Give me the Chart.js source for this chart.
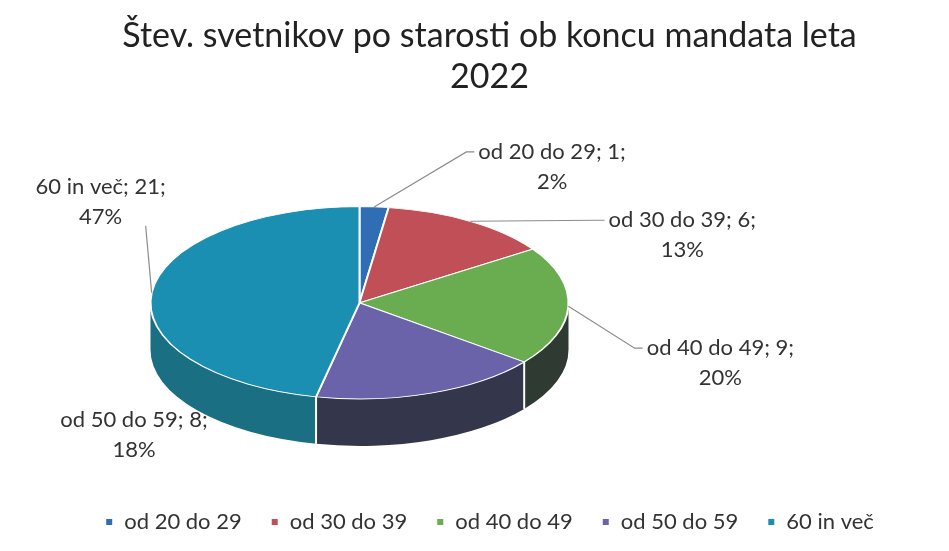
<!DOCTYPE html>
<html>
<head>
<meta charset="utf-8">
<script src="https://cdn.jsdelivr.net/npm/chart.js@4.4.0/dist/chart.umd.min.js"></script>
<style>
  html, body { margin: 0; padding: 0; background: #fff; }
</style>
</head>
<body>
<canvas id="myChart" width="949" height="551"></canvas>
<script>
// Data
const ageGroups = ['od 20 do 29', 'od 30 do 39', 'od 40 do 49', 'od 50 do 59', '60 in več'];
const councillors = [1, 6, 9, 8, 21];

// Colours: top faces and the (darker) front walls
const topColors = ['#2f6db5', '#c04f57', '#6aac50', '#6a63a9', '#1b8fb1'];
const wallColors = ['#214f82', '#8a3a40', '#2f3a33', '#34364c', '#1a6f82'];

// where Excel put each data label, relative to the slice's edge point
const labelNudge = [[178, -40], [212, 14], [152, 57], [-297, 42], [-51, -91]];
const hasLeader = [true, true, true, false, true];

const tilt = 0.46;      // squash of the top face
const depth = 47;       // height of the pie wall
const pieShift = [-130, 8];

const total = councillors.reduce((a, b) => a + b, 0);
const percents = councillors.map(v => Math.round(v / total * 100));

const FONT = 'Lato';

const pie3d = {
    id: 'pie3d',
    beforeDatasetsDraw(chart) {
        const ctx = chart.ctx;
        const arcs = chart.getDatasetMeta(0).data;
        const o = arcs[0];
        const X = o.x + pieShift[0], Y = o.y + pieShift[1];
        const rx = o.outerRadius, ry = rx * tilt;

        // walls - only the front half can be seen
        ctx.save();
        arcs.forEach((arc, i) => {
            const a1 = Math.max(arc.startAngle, 0);
            const a2 = Math.min(arc.endAngle, Math.PI);
            if (a2 <= a1) return;
            ctx.beginPath();
            ctx.ellipse(X, Y, rx, ry, 0, a1, a2);
            ctx.ellipse(X, Y + depth, rx, ry, 0, a2, a1, true);
            ctx.closePath();
            ctx.fillStyle = wallColors[i];
            ctx.fill();
        });
        // white seams between the slices on the wall
        ctx.strokeStyle = '#fff';
        ctx.lineWidth = 2;
        arcs.forEach(arc => {
            const a = arc.startAngle;
            if (a > 0 && a < Math.PI) {
                const x = X + rx * Math.cos(a), y = Y + ry * Math.sin(a);
                ctx.beginPath();
                ctx.moveTo(x, y);
                ctx.lineTo(x, y + depth);
                ctx.stroke();
            }
        });
        ctx.restore();

        // flat pie -> top face
        ctx.save();
        ctx.translate(X, Y);
        ctx.scale(1, tilt);
        ctx.translate(-o.x, -o.y);
    },
    afterDatasetsDraw(chart) {
        const ctx = chart.ctx;
        ctx.restore();

        const arcs = chart.getDatasetMeta(0).data;
        const o = arcs[0];
        const X = o.x + pieShift[0], Y = o.y + pieShift[1];
        const rx = o.outerRadius, ry = rx * tilt;
        const line = 30;

        ctx.save();
        ctx.font = '22px ' + FONT;
        ctx.textAlign = 'center';
        ctx.textBaseline = 'middle';
        arcs.forEach((arc, i) => {
            const mid = (arc.startAngle + arc.endAngle) / 2;
            const ax = X + rx * Math.cos(mid), ay = Y + ry * Math.sin(mid);
            const cx = ax + labelNudge[i][0], cy = ay + labelNudge[i][1];
            const l1 = ageGroups[i] + '; ' + councillors[i] + ';';
            const l2 = percents[i] + '%';
            const w = ctx.measureText(l1).width;
            const left = cx - w / 2, right = cx + w / 2, bottom = cy + line;

            ctx.fillStyle = '#333333';
            ctx.fillText(l1, cx, cy - line / 2);
            ctx.fillText(l2, cx, cy + line / 2);

            if (!hasLeader[i]) return;
            let ex, ey, kx;
            if (ax < left) {
                ex = left - 4; ey = cy - line / 2; kx = ex - 8;
            } else if (ax > right) {
                ex = right + 4; ey = cy - line / 2; kx = ex + 8;
            } else {
                ex = Math.min(Math.max(ax - 6, left), right); ey = bottom - 6; kx = ex;
            }
            ctx.strokeStyle = '#8c8c8c';
            ctx.lineWidth = 1.2;
            ctx.beginPath();
            ctx.moveTo(ax, ay);
            ctx.lineTo(kx, ey);
            ctx.lineTo(ex, ey);
            ctx.stroke();
        });
        ctx.restore();
    }
};

var ctx = document.getElementById('myChart').getContext('2d');
var chart = new Chart(ctx, {
    type: 'pie',
    data: {
        labels: ageGroups,
        datasets: [{
            data: councillors,
            backgroundColor: topColors,
            borderColor: '#ffffff',
            borderWidth: 2,
            radius: 209,
            clip: false
        }]
    },
    options: {
        responsive: false,
        animation: false,
        events: [],
        layout: { padding: { left: 30, right: 0, top: 0, bottom: 8 } },
        plugins: {
            title: {
                display: true,
                text: ['Štev. svetnikov po starosti ob koncu mandata leta', '2022'],
                color: '#222222',
                font: { family: FONT, size: 34, weight: 'normal', lineHeight: 1.2 },
                padding: { top: 16, bottom: 10 }
            },
            legend: {
                position: 'bottom',
                labels: {
                    color: '#333333',
                    font: { family: FONT, size: 22 },
                    boxWidth: 8,
                    boxHeight: 8,
                    padding: 29
                }
            },
            tooltip: { enabled: false }
        }
    },
    plugins: [pie3d]
});
</script>
</body>
</html>
